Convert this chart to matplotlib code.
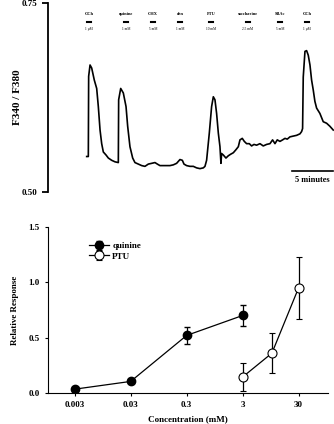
import matplotlib
matplotlib.use('Agg')
import matplotlib.pyplot as plt
from matplotlib.ticker import NullLocator

plt.rcParams['font.family'] = ['Liberation Serif', 'DejaVu Serif']
plt.rcParams['font.weight'] = 'bold'

# calcium trace (minutes, F340/F380)
trace_t = [-0.04, 0.16, 0.20, 0.37, 0.57, 0.89, 1.18, 1.38, 1.59, 1.79, 1.99, 2.32, 2.60,
           3.01, 3.41, 3.82, 3.86, 4.11, 4.43, 4.76, 4.96, 5.24, 5.57, 5.85, 6.26, 6.67,
           7.07, 7.48, 7.89, 8.29, 8.58, 8.90, 9.31, 9.72, 10.12, 10.53, 10.93, 11.34,
           11.63, 11.83, 12.15, 12.56, 12.97, 13.37, 13.78, 14.19, 14.39, 14.59, 14.92,
           15.20, 15.41, 15.61, 15.81, 16.02, 16.22, 16.34, 16.42, 16.63, 16.95, 17.24,
           17.52, 17.85, 18.17, 18.46, 18.66, 18.94, 19.19, 19.47, 19.80, 20.08, 20.37,
           20.69, 21.10, 21.50, 21.91, 22.32, 22.64, 22.93, 23.21, 23.54, 23.86, 24.15,
           24.43, 24.76, 25.16, 25.57, 25.98, 26.18, 26.30, 26.38, 26.59, 26.79, 26.99,
           27.20, 27.40, 27.60, 27.80, 28.01, 28.41, 28.82, 29.23, 29.63, 30.04]
trace_v = [0.547, 0.547, 0.653, 0.668, 0.664, 0.648, 0.637, 0.613, 0.582, 0.564, 0.553,
           0.549, 0.545, 0.542, 0.540, 0.539, 0.622, 0.637, 0.631, 0.613, 0.587, 0.560,
           0.545, 0.539, 0.537, 0.535, 0.534, 0.537, 0.538, 0.539, 0.537, 0.535, 0.535,
           0.535, 0.535, 0.536, 0.538, 0.543, 0.542, 0.537, 0.535, 0.534, 0.534, 0.532,
           0.531, 0.532, 0.534, 0.542, 0.578, 0.613, 0.626, 0.622, 0.604, 0.578, 0.560,
           0.538, 0.551, 0.549, 0.545, 0.548, 0.550, 0.552, 0.556, 0.560, 0.569, 0.571,
           0.567, 0.564, 0.564, 0.561, 0.563, 0.562, 0.564, 0.561, 0.563, 0.564, 0.569,
           0.564, 0.569, 0.567, 0.569, 0.571, 0.570, 0.573, 0.574, 0.575, 0.577, 0.580,
           0.584, 0.652, 0.686, 0.687, 0.681, 0.668, 0.648, 0.635, 0.620, 0.611, 0.604,
           0.593, 0.591, 0.587, 0.582]

stim_names = ['CCh', 'quinine', 'CHX', 'den', 'PTU', 'saccharine', 'SBAc', 'CCh']
stim_conc = ['1 \u00b5M', '1 mM', '5 mM', '1 mM', '10 mM', '2.5 mM', '5 mM', '1 \u00b5M']
stim_t = [0.28, 4.76, 8.05, 11.34, 15.12, 19.63, 23.54, 26.83]

# dose response
conc = [0.003, 0.03, 0.3, 3, 30]
quin_x = [0.003, 0.03, 0.3, 3]
quin_y = [0.035, 0.105, 0.52, 0.70]
quin_err = [0.0, 0.0, 0.08, 0.095]
ptu_x = [3, 10, 30]
ptu_y = [0.145, 0.36, 0.95]
ptu_err = [0.13, 0.18, 0.28]

fig = plt.figure(figsize=(3.34, 4.24), dpi=100)

ax1 = fig.add_axes([0.1437, 0.547, 0.856, 0.446])
ax1.plot(trace_t, trace_v, color='black', lw=1.2)
ax1.set_xlim(-4.76, 30.12)
ax1.set_ylim(0.50, 0.75)
ax1.set_yticks([0.50, 0.75])
ax1.set_yticklabels(['0.50', '0.75'], fontsize=6.5, fontweight='bold')
ax1.set_xticks([])
for s in ['top', 'right', 'bottom']:
    ax1.spines[s].set_visible(False)
ax1.spines['left'].set_linewidth(1.3)
ax1.tick_params(axis='y', length=4, width=1.3)
ax1.set_ylabel('F340 / F380', fontsize=8, fontweight='bold', labelpad=0)

for name, c, t in zip(stim_names, stim_conc, stim_t):
    ax1.text(t, 0.7355, name, fontsize=3.2, ha='center', va='center')
    ax1.plot([t - 0.25, t + 0.25], [0.725, 0.725], color='black', lw=1.5)
    ax1.text(t, 0.7156, c, fontsize=2.5, ha='center', va='center', fontweight='normal')

# 5 minute scale bar
ax1.plot([25.0, 30.0], [0.528, 0.528], color='black', lw=1.2, clip_on=False)
ax1.text(27.5, 0.516, '5 minutes', fontsize=6, ha='center', va='center')

ax2 = fig.add_axes([0.1437, 0.073, 0.838, 0.392])
ax2.errorbar(quin_x, quin_y, yerr=quin_err, color='black', lw=0.9, marker='o',
             ms=6, mfc='black', mec='black', capsize=2.5, elinewidth=0.9, label='quinine')
ax2.errorbar(ptu_x, ptu_y, yerr=ptu_err, color='black', lw=0.9, marker='o',
             ms=6.5, mfc='white', mec='black', mew=0.8, capsize=2.5, elinewidth=0.9,
             label='PTU')
ax2.set_xscale('log')
ax2.set_xlim(0.001, 100)
ax2.set_ylim(0, 1.5)
ax2.set_xticks(conc)
ax2.set_xticklabels(['0.003', '0.03', '0.3', '3', '30'], fontsize=6.5, fontweight='bold')
ax2.xaxis.set_minor_locator(NullLocator())
ax2.set_yticks([0.0, 0.5, 1.0, 1.5])
ax2.set_yticklabels(['0.0', '0.5', '1.0', '1.5'], fontsize=6.5, fontweight='bold')
ax2.tick_params(length=2.5, width=0.8)
for s in ['top', 'right']:
    ax2.spines[s].set_visible(False)
ax2.set_xlabel('Concentration (mM)', fontsize=6.5, fontweight='bold', labelpad=4)
ax2.set_ylabel('Relative Response', fontsize=6.5, fontweight='bold', labelpad=7)
leg = ax2.legend(loc='upper left', bbox_to_anchor=(0.13, 0.935), frameon=False,
                 fontsize=6.5, handlelength=2.2, labelspacing=0.2, borderpad=0,
                 handletextpad=0.4)
for txt in leg.get_texts():
    txt.set_fontweight('bold')

fig.savefig('out.png', dpi=100)
